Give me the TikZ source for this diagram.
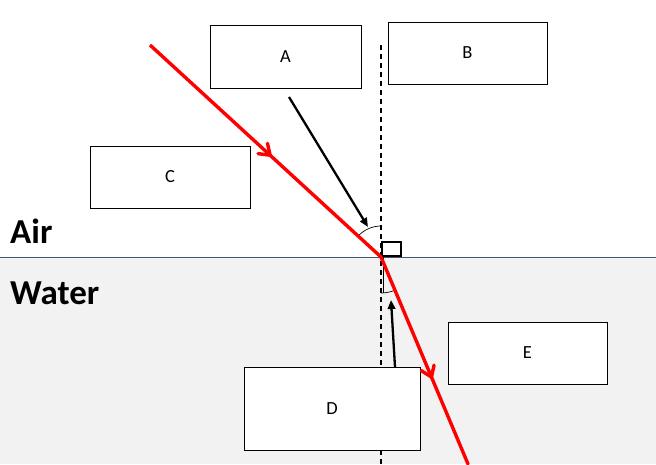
\documentclass[tikz,border=0pt]{standalone}
\usepackage{fontspec}
\setmainfont{Carlito}
\usetikzlibrary{arrows.meta,decorations.markings}
\definecolor{waterfill}{HTML}{F2F2F2}
\definecolor{surf}{HTML}{44546A}
\definecolor{rayred}{HTML}{FF0000}
\begin{document}
\begin{tikzpicture}[x=1pt,y=-1pt,
  labelbox/.style={draw=black,line width=1pt,fill=white,inner sep=0pt,font=\fontsize{18.5}{22}\selectfont},
  medium/.style={font=\bfseries\fontsize{35}{38}\selectfont,anchor=west,inner sep=0pt},
  ray/.style={draw=rayred,line width=3.4pt},
  pointer/.style={draw=black,line width=2.3pt,-{Triangle[length=9pt,width=7.5pt]}},
  anglearc/.style={draw=black,line width=0.7pt},
  redhead/.style={postaction={decorate},decoration={markings,mark=at position #1 with {\draw[rayred,line width=3.4pt,line cap=round] (-10pt,-7pt) -- (0,0) -- (-10pt,7pt);}}}
]
\useasboundingbox (0,0) rectangle (656,464);
\fill[white] (0,0) rectangle (656,257);
\fill[waterfill] (0,257) rectangle (656,464);
\draw[surf,line width=0.8pt] (0,257) -- (656,257);

% normal
\coordinate (ntop) at (381,45);
\coordinate (nbot) at (381,464);
\draw[black,line width=1.8pt,dash pattern=on 5pt off 4pt] (ntop) -- (nbot);

% boxes
\node[labelbox,minimum width=151pt,minimum height=63pt] (A) at (285.5,56.5) {A};
\node[labelbox,minimum width=159pt,minimum height=62pt] (B) at (467.5,53) {B};
\node[labelbox,minimum width=160pt,minimum height=62pt] (C) at (170,177) {C};
\node[labelbox,minimum width=176pt,minimum height=83pt] (D) at (332,408.5) {D};
\node[labelbox,minimum width=159pt,minimum height=62pt] (E) at (527.5,353) {E};

\node[medium] (air) at (10,231) {Air};
\node[medium] (water) at (10,293) {Water};

% point of incidence and ray
\coordinate (O) at (381,257);
\coordinate (S) at (150,45);
\coordinate (T) at (468,464);

% angle arcs
\draw[anglearc] (O) ++(0,-31) arc[start angle=90,end angle=137.5,radius=31pt];
\draw[anglearc] (383,257) -- (383,293);
\draw[anglearc] (O) ++(0,36) arc[start angle=270,end angle=292.8,radius=36pt];
% right-angle box
\node[draw=black,line width=1.8pt,minimum width=19pt,minimum height=14pt,inner sep=0pt,anchor=south west] (sq) at (381,257) {};

\draw[ray,redhead=0.52] (S) -- (O);
\draw[ray,redhead=0.58,line cap=round] (O) -- (T);

% pointers
\coordinate (p1s) at (289,97);
\coordinate (p1e) at (368,227);
\draw[pointer] (p1s) -- (p1e);
\coordinate (p2s) at (395,367);
\coordinate (p2e) at (391,300);
\draw[pointer] (p2s) -- (p2e);
\end{tikzpicture}
\end{document}
